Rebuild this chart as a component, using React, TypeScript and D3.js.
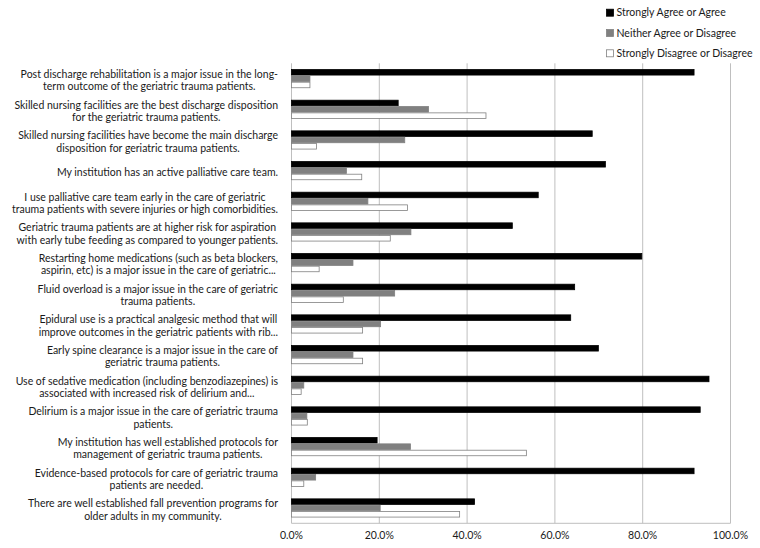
import React, { useEffect, useRef } from "react";
import * as d3 from "d3";

const categories = [
  "Post discharge rehabilitation is a major issue in the long-\nterm outcome of the geriatric trauma patients.",
  "Skilled nursing facilities are the best discharge disposition\nfor the geriatric trauma patients.",
  "Skilled nursing facilities have become the main discharge\ndisposition for geriatric trauma patients.",
  "My institution has an active palliative care team.",
  "I use palliative care team early in the care of geriatric\ntrauma patients with severe injuries or high comorbidities.",
  "Geriatric trauma patients are at higher risk for aspiration\nwith early tube feeding as compared to younger patients.",
  "Restarting home medications (such as beta blockers,\naspirin, etc) is a major issue in the care of geriatric...",
  "Fluid overload is a major issue in the care of geriatric\ntrauma patients.",
  "Epidural use is a practical analgesic method that will\nimprove outcomes in the geriatric patients with rib...",
  "Early spine clearance is a major issue in the care of\ngeriatric trauma patients.",
  "Use of sedative medication (including benzodiazepines) is\nassociated with increased risk of delirium and...",
  "Delirium is a major issue in the care of geriatric trauma\npatients.",
  "My institution has well established protocols for\nmanagement of geriatric trauma patients.",
  "Evidence-based protocols for care of geriatric trauma\npatients are needed.",
  "There are well established fall prevention programs for\nolder adults in my community.",
];

const seriesNames = [
  "Strongly Agree or Agree",
  "Neither Agree or Disagree",
  "Strongly Disagree or Disagree",
];

const agree = [91.7, 24.3, 68.5, 71.5, 56.2, 50.3, 79.8, 64.5, 63.6, 69.9, 95.1, 93.1, 19.5, 91.7, 41.7];
const neither = [4.2, 31.2, 25.8, 12.5, 17.4, 27.2, 14.0, 23.5, 20.3, 14.0, 2.8, 3.5, 27.1, 5.5, 20.2];
const disagree = [4.2, 44.3, 5.7, 16.0, 26.4, 22.5, 6.3, 11.8, 16.2, 16.2, 2.2, 3.6, 53.5, 2.8, 38.3];

const ticks = [0, 20, 40, 60, 80, 100];

const W = 760;
const H = 548;
const FONT = "Lato, 'Open Sans', sans-serif";

export default function App() {
  const ref = useRef<SVGSVGElement | null>(null);

  useEffect(() => {
    const svg = d3.select(ref.current);
    svg.selectAll("*").remove();

    const left = 291.5;
    const right = 730.5;
    const top = 63.3;
    const bottom = 523.3;

    const x = d3.scaleLinear().domain([0, 100]).range([left, right]);
    const y = d3
      .scaleBand<number>()
      .domain(d3.range(categories.length))
      .range([top, bottom])
      .paddingInner(0.38)
      .paddingOuter(0.19);
    const ySub = d3.scaleBand<number>().domain([0, 1, 2]).range([0, y.bandwidth()]);

    const fills = ["#000000", "#808080", "#ffffff"];
    const strokes = ["#000000", "#808080", "#808080"];
    const values = [agree, neither, disagree];

    // gridlines
    svg
      .append("g")
      .selectAll("line")
      .data(ticks)
      .join("line")
      .attr("x1", (d) => x(d))
      .attr("x2", (d) => x(d))
      .attr("y1", top)
      .attr("y2", bottom)
      .attr("stroke", "#bfbfbf")
      .attr("stroke-width", 1);

    // axis line
    svg
      .append("line")
      .attr("x1", left)
      .attr("x2", right)
      .attr("y1", bottom)
      .attr("y2", bottom)
      .attr("stroke", "#bfbfbf");

    // bars
    const gBars = svg.append("g");
    categories.forEach((_, i) => {
      values.forEach((arr, s) => {
        const yy = (y(i) as number) + (ySub(s) as number);
        gBars
          .append("rect")
          .attr("x", x(0))
          .attr("y", yy + 0.4)
          .attr("width", x(arr[i]) - x(0))
          .attr("height", ySub.bandwidth() - 0.8)
          .attr("fill", fills[s])
          .attr("stroke", strokes[s])
          .attr("stroke-width", 0.8);
      });
    });

    // x tick labels
    svg
      .append("g")
      .selectAll("text")
      .data(ticks)
      .join("text")
      .attr("x", (d) => x(d))
      .attr("y", bottom + 16)
      .attr("text-anchor", "middle")
      .attr("font-family", FONT)
      .attr("font-size", 10.5)
      .attr("fill", "#1a1a1a")
      .text((d) => d3.format(".1f")(d) + "%");

    // category labels
    const gLab = svg.append("g").attr("font-family", FONT).attr("font-size", 10.5).attr("fill", "#1a1a1a");
    const labelRight = 278;
    const lineH = 12.3;
    categories.forEach((c, i) => {
      const lines = c.split("\n");
      const cy = (y(i) as number) + y.bandwidth() / 2 + 2;
      const texts = lines.map((ln, j) =>
        gLab
          .append("text")
          .attr("y", cy + (j - (lines.length - 1) / 2) * lineH)
          .attr("dy", "0.35em")
          .attr("text-anchor", "middle")
          .text(ln)
      );
      const widths = texts.map((t) => (t.node() as SVGTextElement).getComputedTextLength());
      const maxW = d3.max(widths) || 0;
      texts.forEach((t) => t.attr("x", labelRight - maxW / 2));
    });

    // legend
    const gLeg = svg.append("g");
    seriesNames.forEach((name, s) => {
      const cy = 12.7 + s * 20.3;
      gLeg
        .append("rect")
        .attr("x", 606.5)
        .attr("y", cy - 3.5)
        .attr("width", 7)
        .attr("height", 7)
        .attr("fill", fills[s])
        .attr("stroke", strokes[s])
        .attr("stroke-width", 0.8);
      gLeg
        .append("text")
        .attr("x", 616.5)
        .attr("y", cy)
        .attr("dy", "0.35em")
        .attr("font-family", FONT)
        .attr("font-size", 10.5)
        .attr("fill", "#1a1a1a")
        .text(name);
    });
  }, []);

  return (
    <svg
      ref={ref}
      width={W}
      height={H}
      style={{ position: "absolute", left: 0, top: 0, background: "#fff" }}
    />
  );
}
